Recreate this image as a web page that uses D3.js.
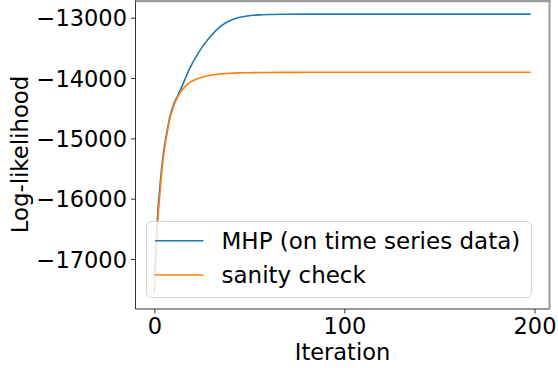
<!DOCTYPE html>
<html lang="en">
<head>
<meta charset="utf-8">
<title>Log-likelihood</title>
<script src="https://d3js.org/d3.v7.min.js"></script>
<style>
  body { margin: 0; background: #fff; }
  text { font-family: "DejaVu Sans", sans-serif; fill: #000; }
</style>
</head>
<body>
<svg width="558" height="368"></svg>
<script>
    // data
    var iterations = [0,1,2,3,4,5,6,7,8,9,10,12,14,16,18,20,22,25,28,31,34,37,40,44,48,52,56,60,70,80,100,130,160,198];
    var mhp = [-17300,-16700,-16150,-15780,-15450,-15200,-15000,-14830,-14670,-14550,-14450,-14310,-14180,-14030,-13880,-13755,-13645,-13495,-13370,-13260,-13165,-13095,-13045,-13000,-12975,-12960,-12952,-12946,-12942,-12940,-12940,-12940,-12940,-12940];
    var sanity = [-17580,-16900,-16300,-15900,-15530,-15260,-15050,-14870,-14700,-14580,-14480,-14330,-14225,-14150,-14090,-14050,-14020,-13985,-13962,-13946,-13935,-13926,-13920,-13915,-13912,-13910,-13908,-13907,-13906,-13905,-13905,-13905,-13905,-13905];
    var seriesNames = ["MHP (on time series data)", "sanity check"];
    var seriesColors = ["#1f77b4", "#ff7f0e"];
    var xTicks = [0, 100, 200];
    var yTicks = [-17000, -16000, -15000, -14000, -13000];

    var plotL = 135.5, plotR = 549.5, plotT = 0, plotB = 309;
    var svg = d3.select("svg");

    var x = d3.scaleLinear().domain([-9.9, 207.9]).range([plotL, plotR]);
    var y = d3.scaleLinear().domain([-17829, -12706]).range([plotB, plotT]);

    var fmt = function(d){ return d < 0 ? "\u2212" + Math.abs(d) : "" + d; };

    // axes
    var xAxis = d3.axisBottom(x).tickValues(xTicks).tickSize(4.5).tickPadding(5).tickFormat(fmt);
    var gx = svg.append("g").attr("transform", "translate(0," + plotB + ")").call(xAxis);
    var yAxis = d3.axisLeft(y).tickValues(yTicks).tickSize(4.5).tickPadding(4).tickFormat(fmt);
    var gy = svg.append("g").attr("transform", "translate(" + plotL + ",0)").call(yAxis);
    [gx, gy].forEach(function(g){
        g.select(".domain").remove();
        g.selectAll(".tick line").attr("stroke", "#333").attr("stroke-width", 1);
        g.selectAll(".tick text").style("font-size", "22.5px").attr("fill", "#000");
    });
    gy.selectAll(".tick text").attr("dy", "0.36em");

    // lines
    var line = d3.line()
        .x(function(d){ return x(d[0]); })
        .y(function(d){ return y(d[1]); })
        .curve(d3.curveMonotoneX);
    [mhp, sanity].forEach(function(vals, k){
        svg.append("path")
            .datum(iterations.map(function(it, i){ return [it, vals[i]]; }))
            .attr("fill", "none")
            .attr("stroke", seriesColors[k])
            .attr("stroke-width", 1.6)
            .attr("d", line);
    });

    // spines
    svg.append("line").attr("x1", plotL).attr("x2", plotL).attr("y1", plotT).attr("y2", plotB)
        .attr("stroke", "#333").attr("stroke-width", 1);
    svg.append("line").attr("x1", plotL).attr("x2", plotR).attr("y1", plotB).attr("y2", plotB)
        .attr("stroke", "#333").attr("stroke-width", 1);
    svg.append("line").attr("x1", plotL).attr("x2", plotR + 1).attr("y1", 1).attr("y2", 1)
        .attr("stroke", "#9a9a9a").attr("stroke-width", 2.5);
    svg.append("line").attr("x1", plotR).attr("x2", plotR).attr("y1", 0).attr("y2", plotB)
        .attr("stroke", "#9a9a9a").attr("stroke-width", 2);

    // legend
    var lg = svg.append("g");
    lg.append("rect").attr("x", 146.5).attr("y", 221.5).attr("width", 385).attr("height", 76)
        .attr("rx", 5).attr("fill", "#fff").attr("fill-opacity", 0.8)
        .attr("stroke", "#ccc").attr("stroke-opacity", 0.8).attr("stroke-width", 1);
    var rowY = [240.7, 275];
    seriesNames.forEach(function(name, k){
        lg.append("line").attr("x1", 155).attr("x2", 203.5).attr("y1", rowY[k]).attr("y2", rowY[k])
            .attr("stroke", seriesColors[k]).attr("stroke-width", 1.6);
        lg.append("text").attr("x", 221.5).attr("y", rowY[k]).attr("dy", "0.36em")
            .style("font-size", "23px").text(name);
    });

    // axis labels
    svg.append("text").attr("x", (plotL + plotR) / 2).attr("y", 360)
        .attr("text-anchor", "middle").style("font-size", "22.5px").text("Iteration");
    svg.append("text").attr("transform", "translate(28," + ((plotT + plotB) / 2) + ") rotate(-90)")
        .attr("text-anchor", "middle").style("font-size", "22.8px").text("Log-likelihood");
</script>
</body>
</html>
